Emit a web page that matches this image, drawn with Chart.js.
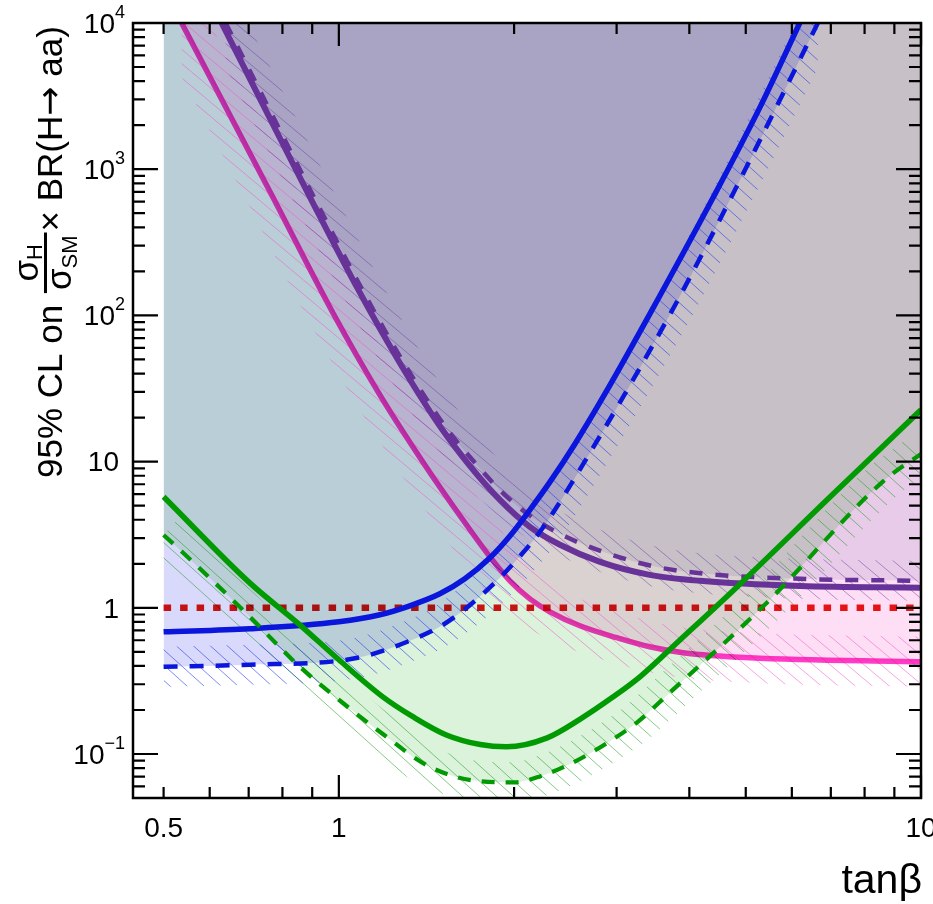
<!DOCTYPE html>
<html>
<head>
<meta charset="utf-8">
<script src="https://cdn.jsdelivr.net/npm/chart.js@4.4.0/dist/chart.umd.min.js"></script>
<style>
  html, body { margin: 0; padding: 0; background: #fff; }
</style>
</head>
<body>
<canvas id="c" width="933" height="904"></canvas>
<script>
// limits vs tan(beta)
const magX = [0.537, 0.770, 0.977, 1.176, 1.394, 1.633, 1.818, 1.967, 2.129, 2.305, 2.595, 3.004, 3.42, 3.90, 5.08, 10];
const magY = [10000, 645, 103.8, 28.6, 9.95, 4.00, 2.23, 1.53, 1.152, 0.939, 0.753, 0.624, 0.541, 0.493, 0.455, 0.427];

const purpleObsX = [0.629, 0.761, 0.892, 1.074, 1.273, 1.491, 1.679, 1.891, 2.129, 2.398, 2.81, 3.42, 4.17, 6.20, 10];
const purpleObsY = [10000, 2235, 645, 156, 47.3, 17.5, 9.35, 5.47, 3.58, 2.70, 2.06, 1.68, 1.53, 1.41, 1.37];
const purpleExpX = [0.639, 0.773, 0.906, 1.091, 1.293, 1.521, 1.719, 1.936, 2.18, 2.455, 2.876, 3.504, 4.27, 6.20, 10];
const purpleExpY = [10000, 2235, 645, 156, 47.3, 17.5, 9.65, 5.83, 4.00, 3.06, 2.376, 1.906, 1.708, 1.578, 1.53];

const blueObsX = [0.5, 0.703, 1.0, 1.176, 1.324, 1.491, 1.646, 1.818, 1.967, 2.129, 2.305, 2.544, 2.864, 3.42, 4.39, 5.29, 6.19];
const blueObsY = [0.685, 0.719, 0.802, 0.896, 1.032, 1.246, 1.58, 2.20, 3.10, 4.68, 7.26, 13.2, 29.0, 102, 635, 2657, 10000];
const blueExpX = [0.5, 0.703, 1.0, 1.131, 1.324, 1.491, 1.633, 1.768, 1.913, 2.071, 2.215, 2.398, 2.70, 3.10, 3.855, 4.79, 5.72, 6.65];
const blueExpY = [0.395, 0.408, 0.434, 0.477, 0.595, 0.742, 0.954, 1.246, 1.681, 2.376, 3.31, 5.30, 11.5, 29.0, 135.7, 720, 2967, 10000];

const greenObsX = [0.5, 0.703, 0.857, 1.0, 1.19, 1.34, 1.53, 1.75, 1.94, 2.28, 2.59, 2.96, 3.29, 3.85, 4.83, 6.97, 10];
const greenObsY = [5.75, 1.48, 0.765, 0.441, 0.246, 0.180, 0.135, 0.116, 0.112, 0.129, 0.172, 0.246, 0.337, 0.60, 1.39, 5.7, 22.6];
const greenExpX = [0.5, 0.54, 0.703, 0.80, 0.857, 1.0, 1.19, 1.43, 1.75, 2.0, 2.21, 2.52, 2.89, 3.25, 3.70, 5.43, 8.6, 10];
const greenExpY = [3.15, 2.38, 0.868, 0.516, 0.395, 0.235, 0.137, 0.082, 0.065, 0.064, 0.070, 0.087, 0.119, 0.164, 0.262, 1.08, 7.3, 11.3];

const refX = [0.5, 10];
const refY = [1, 1];

const xMajor = [0.5, 1, 10];
const xMajorLabels = ['0.5', '1', '10'];
const xMinor = [0.5, 0.6, 0.7, 0.8, 0.9, 2, 3, 4, 5, 6, 7, 8, 9];
const yMajor = [0.1, 1, 10, 100, 1000, 10000];
const yMajorLabels = [['10', '\u22121'], ['1', ''], ['10', ''], ['10', '2'], ['10', '3'], ['10', '4']];

const FONT = '"Liberation Sans", Arial, Helvetica, sans-serif';

function pts(xs, ys) {
  return xs.map((x, i) => ({ x: x, y: ys[i] }));
}

// sample the drawn (monotone bezier) curve in pixels
function curvePixels(meta, area) {
  meta.dataset.updateControlPoints(area, 'x');
  const p = meta.dataset.points;
  const out = [];
  for (let i = 0; i < p.length - 1; i++) {
    const a = p[i], b = p[i + 1];
    const c1x = a.cp2x ?? a.x, c1y = a.cp2y ?? a.y;
    const c2x = b.cp1x ?? b.x, c2y = b.cp1y ?? b.y;
    for (let k = 0; k < 16; k++) {
      const t = k / 16, u = 1 - t;
      out.push([
        u * u * u * a.x + 3 * u * u * t * c1x + 3 * u * t * t * c2x + t * t * t * b.x,
        u * u * u * a.y + 3 * u * u * t * c1y + 3 * u * t * t * c2y + t * t * t * b.y
      ]);
    }
  }
  const l = p[p.length - 1];
  out.push([l.x, l.y]);
  return out;
}

function drawHatch(ctx, chart, meta, h) {
  const area = chart.chartArea;
  const c = curvePixels(meta, area);
  const left = [], right = [];
  for (let i = 0; i < c.length; i++) {
    const a = c[Math.max(0, i - 1)], b = c[Math.min(c.length - 1, i + 1)];
    let tx = b[0] - a[0], ty = b[1] - a[1];
    const n = Math.hypot(tx, ty) || 1;
    tx /= n; ty /= n;
    left.push([c[i][0] - ty * h.w, c[i][1] + tx * h.w]);
    right.push([c[i][0] + ty * h.w, c[i][1] - tx * h.w]);
  }
  const x0 = Math.max(area.left, c[0][0]);
  const x1 = Math.min(area.right, c[c.length - 1][0]);
  ctx.save();
  ctx.beginPath();
  ctx.rect(x0, area.top, x1 - x0, area.bottom - area.top);
  ctx.clip();
  ctx.beginPath();
  left.forEach((q, i) => i ? ctx.lineTo(q[0], q[1]) : ctx.moveTo(q[0], q[1]));
  for (let i = right.length - 1; i >= 0; i--) ctx.lineTo(right[i][0], right[i][1]);
  ctx.closePath();
  ctx.clip();
  const ang = h.angle * Math.PI / 180;
  const dx = Math.cos(ang), dy = Math.sin(ang);
  const step = h.space * Math.sin(ang);
  const cx = (area.left + area.right) / 2, cy = (area.top + area.bottom) / 2;
  const L = 1400;
  ctx.strokeStyle = h.color;
  ctx.lineWidth = 1;
  ctx.beginPath();
  for (let k = -110; k <= 110; k++) {
    const ox = cx - dy * k * step, oy = cy + dx * k * step;
    ctx.moveTo(ox - dx * L, oy - dy * L);
    ctx.lineTo(ox + dx * L, oy + dy * L);
  }
  ctx.stroke();
  ctx.restore();
}

function drawPow(ctx, base, exp, xr, yc) {
  ctx.textBaseline = 'middle';
  ctx.textAlign = 'left';
  ctx.font = '28px ' + FONT;
  const wb = ctx.measureText(base).width;
  ctx.font = '18px ' + FONT;
  const we = exp ? ctx.measureText(exp).width : 0;
  const x0 = exp ? xr - wb - we : xr - 6 - wb;
  ctx.font = '28px ' + FONT;
  ctx.fillText(base, x0, yc);
  if (exp) {
    ctx.font = '18px ' + FONT;
    ctx.fillText(exp, x0 + wb, yc - 12);
  }
}

const rootStyle = {
  id: 'rootStyle',
  beforeDraw(chart) {
    const ctx = chart.ctx;
    ctx.save();
    ctx.fillStyle = '#fff';
    ctx.fillRect(0, 0, chart.width, chart.height);
    ctx.restore();
    ctx.globalCompositeOperation = 'multiply';
  },
  beforeDatasetsDraw(chart) {
    const ctx = chart.ctx;
    ctx.globalCompositeOperation = 'source-over';
    chart.data.datasets.forEach((ds, i) => {
      if (ds.hatch) drawHatch(ctx, chart, chart.getDatasetMeta(i), ds.hatch);
    });
  },
  beforeDatasetDraw(chart, args) {
    const ds = chart.data.datasets[args.index];
    chart.ctx.globalCompositeOperation = ds.blend || 'source-over';
  },
  afterDatasetDraw(chart) {
    chart.ctx.globalCompositeOperation = 'source-over';
  },
  afterDraw(chart) {
    const ctx = chart.ctx;
    const a = chart.chartArea;
    const xs = chart.scales.x, ys = chart.scales.y;
    ctx.save();
    ctx.globalCompositeOperation = 'source-over';
    ctx.strokeStyle = '#000';
    ctx.fillStyle = '#000';
    ctx.lineWidth = 2.5;
    ctx.strokeRect(a.left, a.top, a.right - a.left, a.bottom - a.top);
    ctx.lineWidth = 2.2;
    ctx.beginPath();
    const tickX = (v, len) => {
      const px = xs.getPixelForValue(v);
      ctx.moveTo(px, a.bottom); ctx.lineTo(px, a.bottom - len);
      ctx.moveTo(px, a.top); ctx.lineTo(px, a.top + len);
    };
    const tickY = (v, len) => {
      const py = ys.getPixelForValue(v);
      ctx.moveTo(a.left, py); ctx.lineTo(a.left + len, py);
      ctx.moveTo(a.right, py); ctx.lineTo(a.right - len, py);
    };
    xMinor.forEach(v => tickX(v, 11));
    [1, 10].forEach(v => tickX(v, 23));
    for (let d = 0.01; d < 10000; d *= 10) {
      for (let m = 2; m <= 9; m++) {
        const v = d * m;
        if (v >= 0.05 && v <= 10000) tickY(v, 12);
      }
    }
    yMajor.forEach(v => tickY(v, 25));
    ctx.stroke();

    // tick labels
    ctx.textAlign = 'center';
    ctx.textBaseline = 'middle';
    ctx.font = '28px ' + FONT;
    xMajor.forEach((v, i) => ctx.fillText(xMajorLabels[i], xs.getPixelForValue(v), 829));
    yMajor.forEach((v, i) => drawPow(ctx, yMajorLabels[i][0], yMajorLabels[i][1], 125, ys.getPixelForValue(v) + 2));

    // x title
    ctx.textAlign = 'right';
    ctx.textBaseline = 'alphabetic';
    ctx.font = '41px ' + FONT;
    ctx.fillText('tan\u03b2', 922, 893);

    // y title (rotated)
    ctx.translate(62, 478);
    ctx.rotate(-Math.PI / 2);
    ctx.textAlign = 'left';
    ctx.font = '35px ' + FONT;
    ctx.fillText('95% CL on', 0, 0);
    let u = ctx.measureText('95% CL on ').width + 2;
    const ws = ctx.measureText('\u03c3').width;
    ctx.font = '22px ' + FONT;
    const wH = ctx.measureText('H').width, wSM = ctx.measureText('SM').width;
    const barW = ws + wSM + 6;
    ctx.fillRect(u, -18, barW, 3);
    const nx = u + (barW - ws - wH) / 2;
    ctx.font = '35px ' + FONT;
    ctx.fillText('\u03c3', nx, -24);
    ctx.font = '22px ' + FONT;
    ctx.fillText('H', nx + ws, -20);
    const dx = u + 3;
    ctx.font = '35px ' + FONT;
    ctx.fillText('\u03c3', dx, 9);
    ctx.font = '22px ' + FONT;
    ctx.fillText('SM', dx + ws, 15);
    u += barW + 1;
    ctx.font = '35px ' + FONT;
    ctx.fillText('\u00d7 BR(H', u, 0);
    u += ctx.measureText('\u00d7 BR(H').width;
    ctx.font = '35px "DejaVu Sans", sans-serif';
    ctx.fillText('\u2192', u, -1);
    u += ctx.measureText('\u2192').width;
    ctx.font = '35px ' + FONT;
    ctx.fillText(' aa)', u, 0);
    ctx.restore();
  }
};

const datasets = [
  { data: pts(greenObsX, greenObsY), borderColor: '#029a02', borderWidth: 5.5 },
  { data: pts(greenExpX, greenExpY), borderColor: '#029a02', borderWidth: 4.2, borderDash: [13, 11],
    fill: 'end', backgroundColor: 'rgb(219,242,219)',
    hatch: { w: 20, angle: 42, space: 17, color: 'rgba(20,150,20,0.5)' } },
  { data: pts(blueObsX, blueObsY), borderColor: '#0a16dc', borderWidth: 5.5 },
  { data: pts(blueExpX, blueExpY), borderColor: '#0a16dc', borderWidth: 4.5, borderDash: [14, 12],
    fill: 'end', backgroundColor: 'rgb(217,217,251)',
    hatch: { w: 20, angle: 42, space: 17, color: 'rgba(40,60,235,0.6)' } },
  { data: pts(refX, refY), borderColor: '#e81414', borderWidth: 6.5, borderDash: [7.5, 9], blend: 'multiply' },
  { data: pts(magX, magY), borderColor: '#ff3cc8', borderWidth: 5.5, blend: 'multiply',
    fill: 'end', backgroundColor: 'rgb(253,222,244)',
    hatch: { w: 25, angle: 40, space: 17, color: 'rgba(240,90,205,0.55)' } },
  { data: pts(purpleObsX, purpleObsY), borderColor: '#673399', borderWidth: 6 },
  { data: pts(purpleExpX, purpleExpY), borderColor: '#673399', borderWidth: 4.5, borderDash: [13, 13],
    fill: 'end', backgroundColor: 'rgb(234,233,243)',
    hatch: { w: 20, angle: 40, space: 17, color: 'rgba(110,60,165,0.5)' } }
];
datasets.forEach(d => { d.pointRadius = 0; d.cubicInterpolationMode = 'monotone'; d.borderCapStyle = 'butt'; if (!d.fill) d.fill = false; });

new Chart(document.getElementById('c'), {
  type: 'line',
  data: { datasets: datasets },
  options: {
    responsive: false,
    animation: false,
    layout: { padding: { left: 133, right: 12, top: 23, bottom: 106 } },
    plugins: {
      legend: { display: false },
      tooltip: { enabled: false },
      filler: { drawTime: 'beforeDatasetsDraw', propagate: false }
    },
    scales: {
      x: {
        type: 'logarithmic', min: 0.443, max: 10,
        grid: { display: false, drawTicks: false }, border: { display: false },
        ticks: { display: false },
        afterFit: s => { s.height = 0; }
      },
      y: {
        type: 'logarithmic', min: 0.05, max: 10000,
        grid: { display: false, drawTicks: false }, border: { display: false },
        ticks: { display: false },
        afterFit: s => { s.width = 0; }
      }
    }
  },
  plugins: [rootStyle]
});
</script>
</body>
</html>
